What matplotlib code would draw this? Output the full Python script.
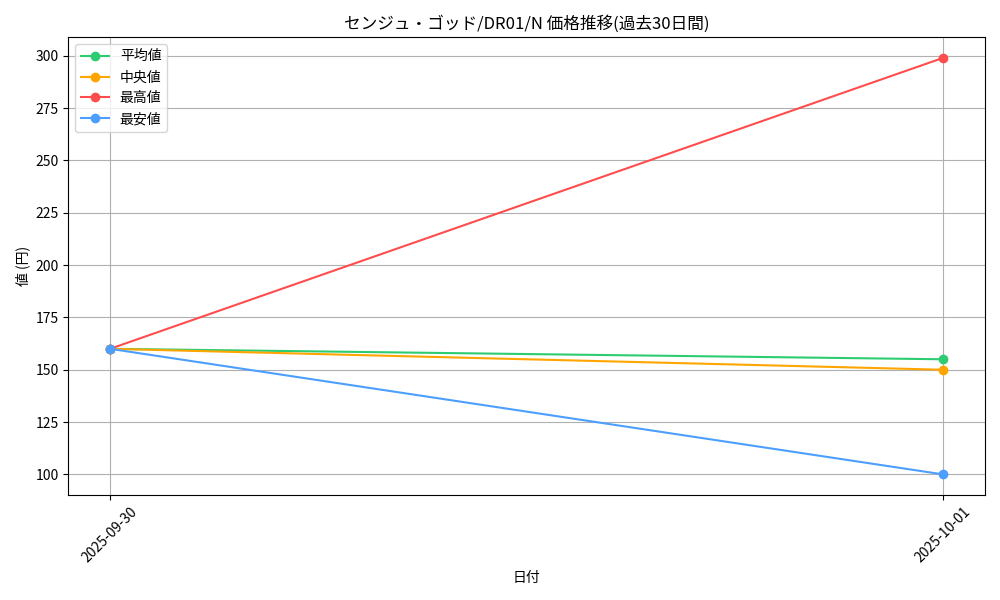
import matplotlib
matplotlib.use("Agg")
import matplotlib.pyplot as plt

plt.rcParams['font.family'] = ['Noto Sans CJK JP', 'DejaVu Sans']

dates = ["2025-09-30", "2025-10-01"]
avg_vals = [160, 155]
median_vals = [160, 150]
max_vals = [160, 299]
min_vals = [160, 100]

fig, ax = plt.subplots(figsize=(10, 6), dpi=100)
ax.plot(dates, avg_vals, marker='o', color='#2ecc71', label='平均値')
ax.plot(dates, median_vals, marker='o', color='#ffa500', label='中央値')
ax.plot(dates, max_vals, marker='o', color='#ff4d4d', label='最高値')
ax.plot(dates, min_vals, marker='o', color='#4d9fff', label='最安値')

ax.set_title('センジュ・ゴッド/DR01/N 価格推移(過去30日間)')
ax.set_xlabel('日付')
ax.set_ylabel('値 (円)')
ax.grid(True)
ax.legend(loc='upper left')
plt.setp(ax.get_xticklabels(), rotation=45)
fig.tight_layout()
fig.savefig('out.png')
